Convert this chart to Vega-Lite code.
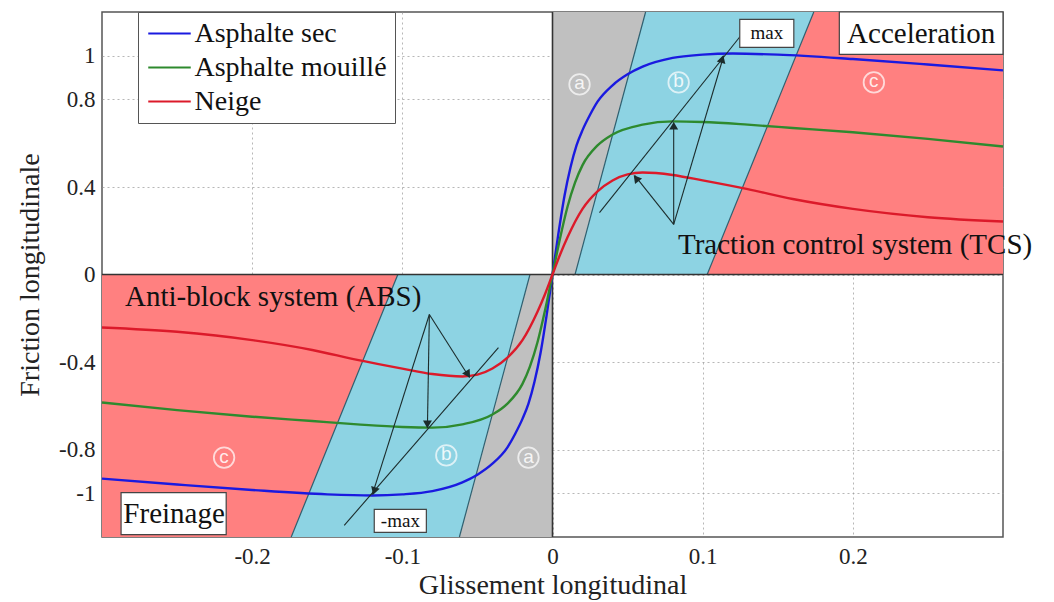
{
  "$schema": "https://vega.github.io/schema/vega-lite/v6.json",
  "width": 901,
  "height": 525,
  "autosize": "none",
  "padding": {"left": 102, "top": 12, "right": 51, "bottom": 65},
  "background": "white",
  "config": {
    "view": {"stroke": "#555", "strokeWidth": 1.5},
    "axis": {
      "labelFont": "Liberation Serif, serif", "labelFontSize": 23, "labelColor": "#222",
      "titleFont": "Liberation Serif, serif", "titleFontSize": 28, "titleFontWeight": "normal", "titleColor": "#222",
      "ticks": false, "tickSize": 0, "domain": false,
      "grid": true, "gridColor": "#999", "gridDash": [2, 3], "gridOpacity": 0.7, "zindex": 1
    },
    "legend": {"labelFont": "Liberation Serif, serif", "labelFontSize": 28, "labelColor": "#111", "labelLimit": 0},
    "text": {"font": "Liberation Serif, serif"}
  },
  "datasets": {
    "regions": [
      {"zone": "a", "quad": "p", "y": 0, "x": 0, "x2": 0.015},
      {"zone": "a", "quad": "p", "y": 1.2, "x": 0, "x2": 0.062},
      {"zone": "b", "quad": "p", "y": 0, "x": 0.015, "x2": 0.103},
      {"zone": "b", "quad": "p", "y": 1.2, "x": 0.062, "x2": 0.174},
      {"zone": "c", "quad": "p", "y": 0, "x": 0.103, "x2": 0.3},
      {"zone": "c", "quad": "p", "y": 1.2, "x": 0.174, "x2": 0.3},
      {"zone": "a", "quad": "n", "y": -1.2, "x": -0.062, "x2": 0},
      {"zone": "a", "quad": "n", "y": 0, "x": -0.015, "x2": 0},
      {"zone": "b", "quad": "n", "y": -1.2, "x": -0.174, "x2": -0.062},
      {"zone": "b", "quad": "n", "y": 0, "x": -0.103, "x2": -0.015},
      {"zone": "c", "quad": "n", "y": -1.2, "x": -0.3, "x2": -0.174},
      {"zone": "c", "quad": "n", "y": 0, "x": -0.3, "x2": -0.103}
    ],
    "bounds": [
      {"x": 0.015, "y": 0, "x2": 0.062, "y2": 1.2},
      {"x": 0.103, "y": 0, "x2": 0.174, "y2": 1.2},
      {"x": -0.015, "y": 0, "x2": -0.062, "y2": -1.2},
      {"x": -0.103, "y": 0, "x2": -0.174, "y2": -1.2}
    ],
    "zeros": [
      {"x": 0, "y": -1.2, "x2": 0, "y2": 1.2},
      {"x": -0.3, "y": 0, "x2": 0.3, "y2": 0}
    ],
    "curves": [
      {"road": "Asphalte sec", "x": -0.3, "y": -0.933},
      {"road": "Asphalte sec", "x": -0.25, "y": -0.96},
      {"road": "Asphalte sec", "x": -0.2, "y": -0.985},
      {"road": "Asphalte sec", "x": -0.15, "y": -1.005},
      {"road": "Asphalte sec", "x": -0.12, "y": -1.01},
      {"road": "Asphalte sec", "x": -0.1, "y": -1.005},
      {"road": "Asphalte sec", "x": -0.08, "y": -0.99},
      {"road": "Asphalte sec", "x": -0.06, "y": -0.95},
      {"road": "Asphalte sec", "x": -0.05, "y": -0.915},
      {"road": "Asphalte sec", "x": -0.04, "y": -0.865},
      {"road": "Asphalte sec", "x": -0.03, "y": -0.79},
      {"road": "Asphalte sec", "x": -0.025, "y": -0.73},
      {"road": "Asphalte sec", "x": -0.02, "y": -0.66},
      {"road": "Asphalte sec", "x": -0.016, "y": -0.59},
      {"road": "Asphalte sec", "x": -0.012, "y": -0.49},
      {"road": "Asphalte sec", "x": -0.008, "y": -0.36},
      {"road": "Asphalte sec", "x": -0.004, "y": -0.19},
      {"road": "Asphalte sec", "x": 0, "y": 0},
      {"road": "Asphalte sec", "x": 0.004, "y": 0.19},
      {"road": "Asphalte sec", "x": 0.008, "y": 0.36},
      {"road": "Asphalte sec", "x": 0.012, "y": 0.49},
      {"road": "Asphalte sec", "x": 0.016, "y": 0.59},
      {"road": "Asphalte sec", "x": 0.02, "y": 0.66},
      {"road": "Asphalte sec", "x": 0.025, "y": 0.73},
      {"road": "Asphalte sec", "x": 0.03, "y": 0.79},
      {"road": "Asphalte sec", "x": 0.04, "y": 0.865},
      {"road": "Asphalte sec", "x": 0.05, "y": 0.915},
      {"road": "Asphalte sec", "x": 0.06, "y": 0.95},
      {"road": "Asphalte sec", "x": 0.08, "y": 0.99},
      {"road": "Asphalte sec", "x": 0.1, "y": 1.005},
      {"road": "Asphalte sec", "x": 0.12, "y": 1.01},
      {"road": "Asphalte sec", "x": 0.15, "y": 1.005},
      {"road": "Asphalte sec", "x": 0.2, "y": 0.985},
      {"road": "Asphalte sec", "x": 0.25, "y": 0.96},
      {"road": "Asphalte sec", "x": 0.3, "y": 0.933},
      {"road": "Asphalte mouillé", "x": -0.3, "y": -0.585},
      {"road": "Asphalte mouillé", "x": -0.25, "y": -0.62},
      {"road": "Asphalte mouillé", "x": -0.2, "y": -0.65},
      {"road": "Asphalte mouillé", "x": -0.16, "y": -0.67},
      {"road": "Asphalte mouillé", "x": -0.13, "y": -0.685},
      {"road": "Asphalte mouillé", "x": -0.1, "y": -0.697},
      {"road": "Asphalte mouillé", "x": -0.08, "y": -0.7},
      {"road": "Asphalte mouillé", "x": -0.06, "y": -0.685},
      {"road": "Asphalte mouillé", "x": -0.04, "y": -0.64},
      {"road": "Asphalte mouillé", "x": -0.03, "y": -0.59},
      {"road": "Asphalte mouillé", "x": -0.02, "y": -0.5},
      {"road": "Asphalte mouillé", "x": -0.015, "y": -0.42},
      {"road": "Asphalte mouillé", "x": -0.01, "y": -0.31},
      {"road": "Asphalte mouillé", "x": -0.005, "y": -0.165},
      {"road": "Asphalte mouillé", "x": 0, "y": 0},
      {"road": "Asphalte mouillé", "x": 0.005, "y": 0.165},
      {"road": "Asphalte mouillé", "x": 0.01, "y": 0.31},
      {"road": "Asphalte mouillé", "x": 0.015, "y": 0.42},
      {"road": "Asphalte mouillé", "x": 0.02, "y": 0.5},
      {"road": "Asphalte mouillé", "x": 0.03, "y": 0.59},
      {"road": "Asphalte mouillé", "x": 0.04, "y": 0.64},
      {"road": "Asphalte mouillé", "x": 0.06, "y": 0.685},
      {"road": "Asphalte mouillé", "x": 0.08, "y": 0.7},
      {"road": "Asphalte mouillé", "x": 0.1, "y": 0.697},
      {"road": "Asphalte mouillé", "x": 0.13, "y": 0.685},
      {"road": "Asphalte mouillé", "x": 0.16, "y": 0.67},
      {"road": "Asphalte mouillé", "x": 0.2, "y": 0.65},
      {"road": "Asphalte mouillé", "x": 0.25, "y": 0.62},
      {"road": "Asphalte mouillé", "x": 0.3, "y": 0.585},
      {"road": "Neige", "x": -0.3, "y": -0.242},
      {"road": "Neige", "x": -0.25, "y": -0.262},
      {"road": "Neige", "x": -0.2, "y": -0.3},
      {"road": "Neige", "x": -0.16, "y": -0.345},
      {"road": "Neige", "x": -0.13, "y": -0.39},
      {"road": "Neige", "x": -0.1, "y": -0.43},
      {"road": "Neige", "x": -0.08, "y": -0.455},
      {"road": "Neige", "x": -0.06, "y": -0.466},
      {"road": "Neige", "x": -0.05, "y": -0.458},
      {"road": "Neige", "x": -0.04, "y": -0.43},
      {"road": "Neige", "x": -0.03, "y": -0.38},
      {"road": "Neige", "x": -0.02, "y": -0.3},
      {"road": "Neige", "x": -0.01, "y": -0.17},
      {"road": "Neige", "x": -0.005, "y": -0.09},
      {"road": "Neige", "x": 0, "y": 0},
      {"road": "Neige", "x": 0.005, "y": 0.09},
      {"road": "Neige", "x": 0.01, "y": 0.17},
      {"road": "Neige", "x": 0.02, "y": 0.3},
      {"road": "Neige", "x": 0.03, "y": 0.38},
      {"road": "Neige", "x": 0.04, "y": 0.43},
      {"road": "Neige", "x": 0.05, "y": 0.458},
      {"road": "Neige", "x": 0.06, "y": 0.466},
      {"road": "Neige", "x": 0.08, "y": 0.455},
      {"road": "Neige", "x": 0.1, "y": 0.43},
      {"road": "Neige", "x": 0.13, "y": 0.39},
      {"road": "Neige", "x": 0.16, "y": 0.345},
      {"road": "Neige", "x": 0.2, "y": 0.3},
      {"road": "Neige", "x": 0.25, "y": 0.262},
      {"road": "Neige", "x": 0.3, "y": 0.242}
    ],
    "arrows": [
      {"id": 1, "x": 0.0807, "y": 0.229, "x2": 0.0547, "y2": 0.453},
      {"id": 2, "x": 0.0807, "y": 0.229, "x2": 0.0807, "y2": 0.695},
      {"id": 3, "x": 0.0807, "y": 0.229, "x2": 0.114, "y2": 1.0},
      {"id": 4, "x": 0.0313, "y": 0.283, "x2": 0.126, "y2": 1.097},
      {"id": 5, "x": -0.082, "y": -0.183, "x2": -0.0553, "y2": -0.471},
      {"id": 6, "x": -0.082, "y": -0.183, "x2": -0.0833, "y2": -0.7},
      {"id": 7, "x": -0.082, "y": -0.183, "x2": -0.12, "y2": -1.006},
      {"id": 8, "x": -0.036, "y": -0.334, "x2": -0.1387, "y2": -1.147}
    ],
    "heads": [
      {"id": 1, "x": 0.0557, "y": 0.44},
      {"id": 2, "x": 0.0807, "y": 0.68},
      {"id": 3, "x": 0.113, "y": 0.985},
      {"id": 5, "x": -0.0563, "y": -0.457},
      {"id": 6, "x": -0.0833, "y": -0.685},
      {"id": 7, "x": -0.1187, "y": -0.99}
    ],
    "circles": [
      {"x": 0.018, "y": 0.869, "t": "a"},
      {"x": 0.084, "y": 0.878, "t": "b"},
      {"x": 0.214, "y": 0.878, "t": "c"},
      {"x": -0.2187, "y": -0.837, "t": "c"},
      {"x": -0.0707, "y": -0.827, "t": "b"},
      {"x": -0.016, "y": -0.837, "t": "a"}
    ],
    "boxes": [
      {"x": 0.1247, "x2": 0.1607, "y": 1.038, "y2": 1.166},
      {"x": 0.191, "x2": 0.3, "y": 1.006, "y2": 1.2},
      {"x": -0.2873, "x2": -0.2173, "y": -1.189, "y2": -0.997},
      {"x": -0.1187, "x2": -0.084, "y": -1.179, "y2": -1.074}
    ],
    "bigtext": [
      {"x": 0.2455, "y": 1.1, "t": "Acceleration"},
      {"x": -0.252, "y": -1.093, "t": "Freinage"},
      {"x": 0.2015, "y": 0.133, "t": "Traction control system (TCS)"},
      {"x": -0.186, "y": -0.105, "t": "Anti-block system (ABS)"}
    ],
    "smalltext": [
      {"x": 0.1427, "y": 1.102, "t": "max"},
      {"x": -0.1013, "y": -1.127, "t": "-max"}
    ]
  },
  "encoding": {
    "x": {
      "field": "x", "type": "quantitative",
      "scale": {"domain": [-0.3, 0.3], "nice": false, "zero": false},
      "axis": {"values": [-0.2, -0.1, 0, 0.1, 0.2], "labelPadding": 8, "titlePadding": 3,
               "labelExpr": "replace(format(datum.value, '~g'), '\u2212', '-')"},
      "title": "Glissement longitudinal"
    },
    "y": {
      "field": "y", "type": "quantitative",
      "scale": {"domain": [-1.2, 1.2], "nice": false, "zero": false},
      "axis": {"values": [-1, -0.8, -0.4, 0, 0.4, 0.8, 1], "labelPadding": 7, "titlePadding": 14,
               "labelExpr": "replace(format(datum.value, '~g'), '\u2212', '-')"},
      "title": "Friction longitudinale"
    }
  },
  "layer": [
    {
      "data": {"name": "regions"},
      "mark": {"type": "area", "orient": "horizontal"},
      "encoding": {
        "x2": {"field": "x2"},
        "fill": {"field": "zone", "type": "nominal", "scale": {"domain": ["a", "b", "c"], "range": ["#c0c0c0", "#8dd3e3", "#ff8080"]}, "legend": null},
        "detail": {"field": "quad"}
      }
    },
    {
      "data": {"name": "bounds"},
      "mark": {"type": "rule", "color": "#2f5f6f", "strokeWidth": 1.2},
      "encoding": {"x2": {"field": "x2"}, "y2": {"field": "y2"}}
    },
    {
      "data": {"name": "zeros"},
      "mark": {"type": "rule", "color": "#333", "strokeWidth": 1.6},
      "encoding": {"x2": {"field": "x2"}, "y2": {"field": "y2"}}
    },
    {
      "data": {"name": "curves"},
      "mark": {"type": "line", "strokeWidth": 2.4, "interpolate": "monotone"},
      "encoding": {
        "stroke": {
          "field": "road", "type": "nominal",
          "scale": {"domain": ["Asphalte sec", "Asphalte mouillé", "Neige"], "range": ["#1a1ae0", "#2e8a2e", "#dc1a2a"]},
          "legend": {
            "orient": "none", "legendX": 36, "legendY": 0, "title": null,
            "strokeColor": "#555", "fillColor": "white", "padding": 7.5,
            "symbolType": "M-0.9,0L2.5,0", "symbolSize": 625, "symbolStrokeWidth": 2,
            "labelOffset": 21, "rowPadding": 6, "labelLimit": 0,
            "labelFont": "Liberation Serif, serif", "labelFontSize": 28, "labelColor": "#111"
          }
        },
        "detail": {"field": "road"}
      }
    },
    {
      "data": {"name": "arrows"},
      "mark": {"type": "rule", "color": "#1c2c2c", "strokeWidth": 1.1},
      "encoding": {"x2": {"field": "x2"}, "y2": {"field": "y2"}}
    },
    {"data": {"name": "heads"}, "transform": [{"filter": "datum.id == 1"}], "mark": {"type": "point", "shape": "triangle-up", "filled": true, "color": "#1c2c2c", "size": 80, "opacity": 1, "angle": -38.5}},
    {"data": {"name": "heads"}, "transform": [{"filter": "datum.id == 2"}], "mark": {"type": "point", "shape": "triangle-up", "filled": true, "color": "#1c2c2c", "size": 80, "opacity": 1, "angle": 0}},
    {"data": {"name": "heads"}, "transform": [{"filter": "datum.id == 3"}], "mark": {"type": "point", "shape": "triangle-up", "filled": true, "color": "#1c2c2c", "size": 80, "opacity": 1, "angle": 16.5}},
    {"data": {"name": "heads"}, "transform": [{"filter": "datum.id == 5"}], "mark": {"type": "point", "shape": "triangle-up", "filled": true, "color": "#1c2c2c", "size": 80, "opacity": 1, "angle": 147.6}},
    {"data": {"name": "heads"}, "transform": [{"filter": "datum.id == 6"}], "mark": {"type": "point", "shape": "triangle-up", "filled": true, "color": "#1c2c2c", "size": 80, "opacity": 1, "angle": 181}},
    {"data": {"name": "heads"}, "transform": [{"filter": "datum.id == 7"}], "mark": {"type": "point", "shape": "triangle-up", "filled": true, "color": "#1c2c2c", "size": 80, "opacity": 1, "angle": 197.6}},
    {
      "data": {"name": "circles"},
      "mark": {"type": "point", "shape": "circle", "size": 420, "filled": false, "stroke": "white", "strokeWidth": 1.8, "opacity": 0.7}
    },
    {
      "data": {"name": "circles"},
      "mark": {"type": "text", "font": "Liberation Sans, sans-serif", "fontSize": 19, "color": "white", "opacity": 0.85, "baseline": "middle", "align": "center", "dy": -1},
      "encoding": {"text": {"field": "t"}}
    },
    {
      "data": {"name": "boxes"},
      "mark": {"type": "rect", "fill": "white", "stroke": "#444", "strokeWidth": 1.2},
      "encoding": {"x2": {"field": "x2"}, "y2": {"field": "y2"}}
    },
    {
      "data": {"name": "bigtext"},
      "mark": {"type": "text", "fontSize": 29, "color": "#111", "baseline": "middle", "align": "center"},
      "encoding": {"text": {"field": "t"}}
    },
    {
      "data": {"name": "smalltext"},
      "mark": {"type": "text", "fontSize": 19, "color": "#111", "baseline": "middle", "align": "center"},
      "encoding": {"text": {"field": "t"}}
    }
  ]
}
